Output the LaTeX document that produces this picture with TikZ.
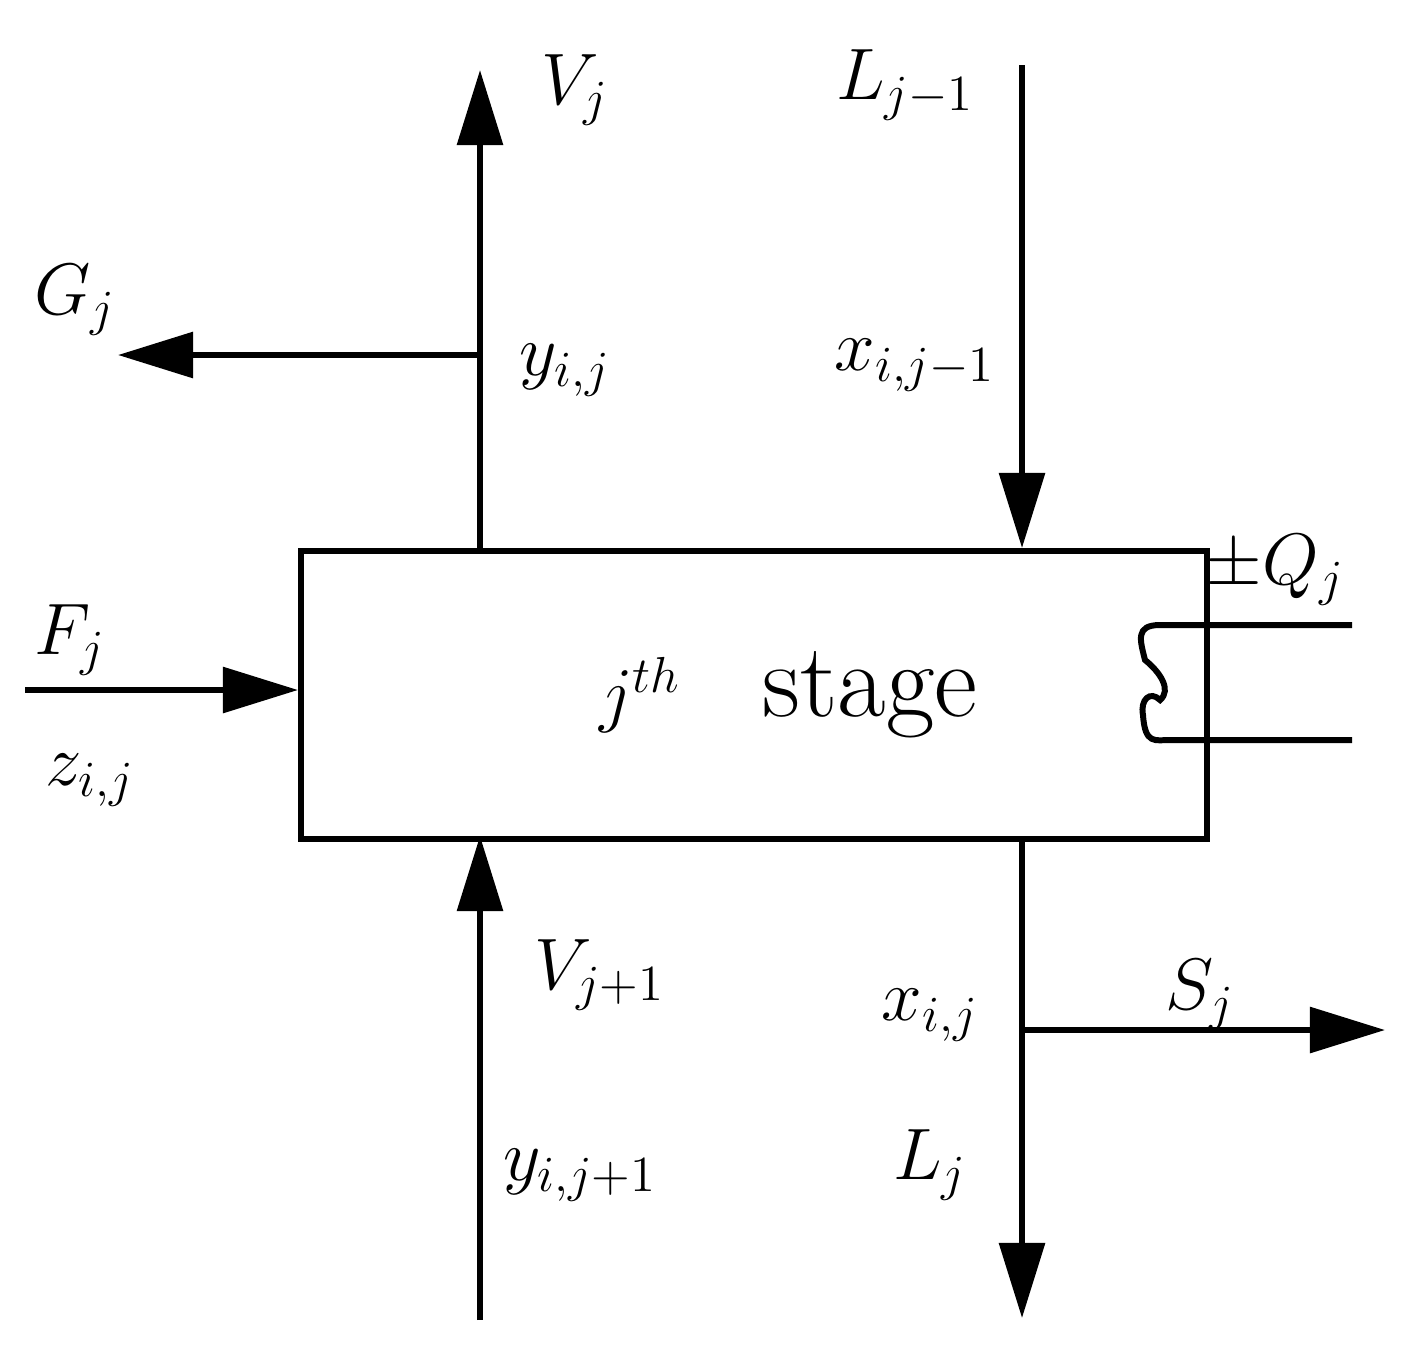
\documentclass[tikz,border=0pt]{standalone}
\usepackage{amsmath}
\usetikzlibrary{arrows.meta}
\begin{document}
\begin{tikzpicture}[x=0.01cm,y=-0.01cm,
    flow/.style={line width=1.7pt,-{Triangle[length=0.75cm,width=0.45cm]}},
    pipe/.style={line width=1.7pt},
    lbl/.style={font=\fontsize{21}{25}\selectfont}]
                \useasboundingbox (0,0) rectangle (1410,1348);
                \node[draw,line width=1.7pt,minimum width=9.05cm,minimum height=2.88cm,anchor=north west,inner sep=0pt] (S) at (298,548) {};

                \coordinate (VT) at (480,70);
                \coordinate (VB) at (480,1320);
                \coordinate (LT) at (1022,65);
                \coordinate (LB) at (1022,1318);
                \coordinate (VS) at (480,548);
                \coordinate (VE) at (480,836);
                \coordinate (LS) at (1022,548);
                \coordinate (LE) at (1022,836);
                \coordinate (GA) at (480,355);
                \coordinate (GB) at (118,355);
                \coordinate (FA) at (25,690);
                \coordinate (FB) at (298,690);
                \coordinate (SA) at (1022,1030);
                \coordinate (SB) at (1385,1030);
                \coordinate (QA) at (1352,625);
                \coordinate (QB) at (1352,740);

                \draw[flow] (VS)--(VT);
                \draw[flow] (VB)--(VE);
                \draw[flow] (LT)--(LS);
                \draw[flow] (LE)--(LB);
                \draw[flow] (GA)--(GB);
                \draw[flow] (FA)--(FB);
                \draw[flow] (SA)--(SB);

                \draw[pipe] (QA)--(1160,625) .. controls (1135,625) and (1140,640) .. (1145,660)
                    .. controls (1160,672) and (1172,690) .. (1160,700)
                    .. controls (1150,690) and (1140,700) .. (1143,715)
                    .. controls (1145,745) and (1155,740) .. (1170,740)--(QB);

                \node[lbl] (vj) at (575,90) {$V_j$};
                \node[lbl] (lj1) at (905,85) {$L_{j-1}$};
                \node[lbl] (gj) at (75,300) {$G_j$};
                \node[lbl] (yij) at (565,370) {$y_{i,j}$};
                \node[lbl] (xij1) at (915,365) {$x_{i,j-1}$};
                \node[lbl] (qj) at (1275,570) {$\pm Q_j$};
                \node[lbl] (fj) at (70,640) {$F_j$};
                \node[lbl] (zij) at (90,780) {$z_{i,j}$};
                \node[lbl] (jth) at (640,695) {$j^{th}$};
                \node[font=\fontsize{30}{34}\selectfont] (stg) at (870,695) {stage};
                \node[lbl] (vj1) at (600,975) {$V_{j+1}$};
                \node[lbl] (xij) at (930,1015) {$x_{i,j}$};
                \node[lbl] (sj) at (1200,995) {$S_j$};
                \node[lbl] (lj) at (930,1165) {$L_j$};
                \node[lbl] (yij1) at (580,1175) {$y_{i,j+1}$};
\end{tikzpicture}
\end{document}
